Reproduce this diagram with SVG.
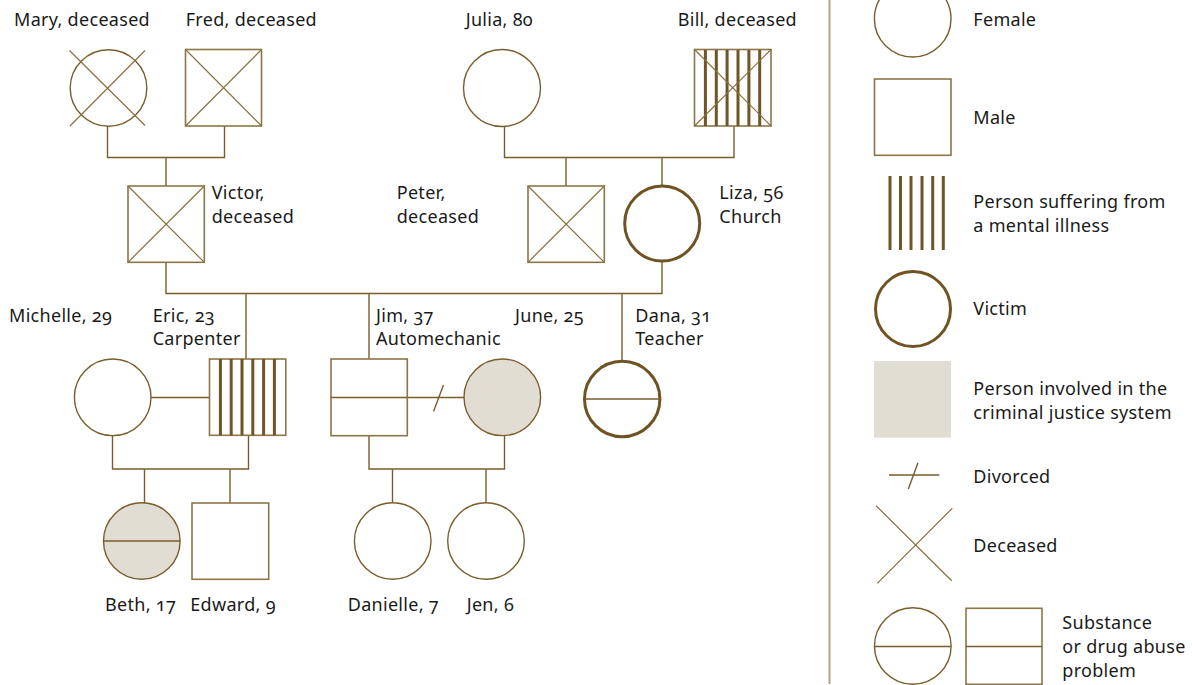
<svg xmlns="http://www.w3.org/2000/svg" width="1192" height="685" viewBox="0 0 1192 685">
<style>
.t{font-family:"Noto Sans","Liberation Sans",sans-serif;font-size:18px;letter-spacing:0.3px;fill:#1a1a1a;font-variant-numeric:oldstyle-nums}
.c{fill:#fff;stroke:#7a5d2c;stroke-width:1.4}
.r{fill:#fff;stroke:#8c7648;stroke-width:1.6}
.v{fill:#fff;stroke:#6f5323;stroke-width:3}
.g{fill:#e1ddd3}
.l{stroke:#7a5d2c;stroke-width:1.4;fill:none}
.x{stroke:#8a7040;stroke-width:1.2;fill:none}
.s{stroke:#715427;stroke-width:3;fill:none}
</style>
<rect width="1192" height="685" fill="#fff"/>
<g id="connectors">
<path class="l" d="M107.5 126V157.5H224.5V126M166 157.5V186"/>
<path class="l" d="M504.5 126V157.5H734V126M566 157.5V186M662 157.5V185"/>
<path class="l" d="M166 262V293.5H662V262M246 293.5V359M369 293.5V359M622 293.5V361"/>
<path class="l" d="M151 397.5H209.5"/>
<path class="l" d="M407 397.5H464M443.5 385L433.5 411.5"/>
<path class="l" d="M112.5 436V469H248.5V436M144.5 469V503M230 469V503"/>
<path class="l" d="M369 436V469H504.5V436M392.5 469V503M486 469V503"/>
</g>
<g id="mary"><circle class="c" cx="108.5" cy="88" r="38.3"/><path class="x" d="M69.5 50.5L145 125.5M145 50.5L70 126"/><text class="t" x="14" y="26">Mary, deceased</text></g>
<g id="fred"><rect class="r" x="185.5" y="49.5" width="76" height="76.5"/><path class="x" d="M185.5 49.5L261.5 126M261.5 49.5L185.5 126"/><text class="t" x="185.7" y="26">Fred, deceased</text></g>
<g id="julia"><circle class="c" cx="502" cy="88" r="38.5"/><text class="t" x="465.7" y="26">Julia, 80</text></g>
<g id="bill"><rect class="r" x="694.5" y="49.5" width="76.5" height="76.5"/><path class="s" d="M705.4 50V126M716.3 50V126M727.1 50V126M738 50V126M748.9 50V126M759.7 50V126"/><path class="x" d="M694.5 49.5L771 126M771 49.5L694.5 126"/><text class="t" x="677.7" y="26">Bill, deceased</text></g>
<g id="victor"><rect class="r" x="128" y="186" width="76.3" height="76.3"/><path class="x" d="M128 186L204.3 262.3M204.3 186L128 262.3"/><text class="t" x="211.7" y="199.3">Victor,</text><text class="t" x="211.7" y="222.7">deceased</text></g>
<g id="peter"><rect class="r" x="528" y="186" width="76.3" height="76.3"/><path class="x" d="M528 186L604.3 262.3M604.3 186L528 262.3"/><text class="t" x="396.7" y="199.3">Peter,</text><text class="t" x="396.7" y="222.7">deceased</text></g>
<g id="liza"><circle class="v" cx="662.2" cy="223.5" r="37.5"/><text class="t" x="719.3" y="199.3">Liza, 56</text><text class="t" x="719.3" y="222.7">Church</text></g>
<g id="michelle"><circle class="c" cx="112.7" cy="397.3" r="38.3"/><text class="t" x="9" y="322.3">Michelle, 29</text></g>
<g id="eric"><rect class="r" x="209.5" y="359" width="76.3" height="76.3"/><path class="s" d="M220.4 359V435.3M231.2 359V435.3M242 359V435.3M252.8 359V435.3M263.6 359V435.3M274.4 359V435.3"/><text class="t" x="152.7" y="322.3">Eric, 23</text><text class="t" x="152.7" y="345.3">Carpenter</text></g>
<g id="jim"><rect class="r" x="331" y="359" width="76.3" height="76.7"/><path class="l" d="M331 397.5H407"/><text class="t" x="376" y="322.3">Jim, 37</text><text class="t" x="376" y="345.3">Automechanic</text></g>
<g id="june"><circle class="c" cx="502.3" cy="397.3" r="38.3" style="fill:#e1ddd3"/><text class="t" x="515" y="322.3">June, 25</text></g>
<g id="dana"><circle class="v" cx="622.2" cy="399" r="37.7"/><path class="l" d="M584.5 399H660"/><text class="t" x="635.3" y="322.3">Dana, 31</text><text class="t" x="635.3" y="345.3">Teacher</text></g>
<g id="beth"><circle class="c" cx="141.8" cy="541" r="38.3" style="fill:#e1ddd3"/><path class="l" d="M103.5 541H180"/><text class="t" x="105" y="610.7">Beth, 17</text></g>
<g id="edward"><rect class="r" x="192" y="503" width="76.7" height="76.3"/><text class="t" x="190.3" y="610.7">Edward, 9</text></g>
<g id="danielle"><circle class="c" cx="392.7" cy="541" r="38.3"/><text class="t" x="347.7" y="610.7">Danielle, 7</text></g>
<g id="jen"><circle class="c" cx="486" cy="541" r="38.3"/><text class="t" x="466.7" y="610.7">Jen, 6</text></g>
<g id="legend">
<path d="M829.5 0V684" stroke="#b5a583" stroke-width="2" fill="none"/>
<circle class="c" cx="912.7" cy="18.7" r="38.3"/><text class="t" x="973.3" y="25.7">Female</text>
<rect class="r" x="874.5" y="79" width="76.5" height="76.3"/><text class="t" x="973.3" y="124">Male</text>
<path class="s" d="M890 176V250M900.5 176V250M911 176V250M922 176V250M932.7 176V250M943.3 176V250"/>
<text class="t" x="973.3" y="208.3">Person suffering from</text><text class="t" x="973.3" y="231.7">a mental illness</text>
<circle class="v" cx="913" cy="309" r="37.5"/><text class="t" x="973.3" y="315">Victim</text>
<rect class="g" x="874" y="361" width="77" height="76.7"/>
<text class="t" x="973.3" y="395">Person involved in the</text><text class="t" x="973.3" y="419">criminal justice system</text>
<path class="l" d="M889 475H939.3M918 462.7L908.3 489"/><text class="t" x="973.3" y="482.7">Divorced</text>
<path class="x" d="M876 505.7L951.7 580.7M952.3 508.3L877.3 583.3"/><text class="t" x="973.3" y="551.7">Deceased</text>
<circle class="c" cx="912.8" cy="646" r="38.3"/><path class="l" d="M874.5 646.5H951"/>
<rect class="r" x="966" y="608.3" width="76" height="76"/><path class="l" d="M966 646.5H1042"/>
<text class="t" x="1062.3" y="629.3">Substance</text><text class="t" x="1062.3" y="653.3">or drug abuse</text><text class="t" x="1062.3" y="676.7">problem</text>
</g>
</svg>
